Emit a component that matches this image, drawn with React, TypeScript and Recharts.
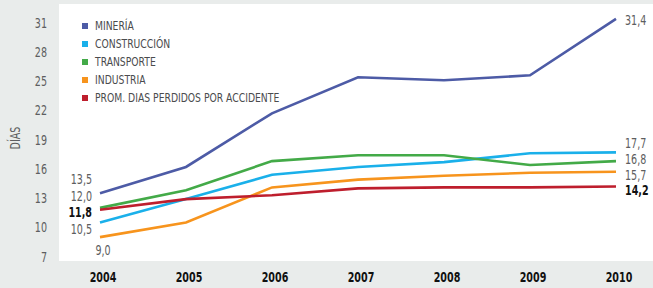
import React from "react";
import { LineChart, Line, XAxis, YAxis, CartesianGrid } from "recharts";

document.body.style.margin = "0";

const years = ["2004", "2005", "2006", "2007", "2008", "2009", "2010"];
const mineria = [13.5, 16.2, 21.7, 25.4, 25.1, 25.6, 31.4];
const construccion = [10.5, 12.9, 15.4, 16.2, 16.7, 17.6, 17.7];
const transporte = [12.0, 13.8, 16.8, 17.4, 17.4, 16.4, 16.8];
const industria = [9.0, 10.5, 14.1, 14.9, 15.3, 15.6, 15.7];
const promedio = [11.8, 12.9, 13.3, 14.0, 14.1, 14.1, 14.2];
const yTicks = [7, 10, 13, 16, 19, 22, 25, 28, 31];

const FONT = "'DejaVu Sans Condensed', 'DejaVu Sans', sans-serif";
const GRAY_TEXT = "#5d5e60";
const SQUEEZE = 0.76;

const data = years.map((year, i) => ({
  year,
  mineria: mineria[i],
  construccion: construccion[i],
  transporte: transporte[i],
  industria: industria[i],
  promedio: promedio[i],
}));

// label placement per series: start [dx, dy, anchor], end [dx, dy]
const series = [
  { key: "mineria", name: "MINERÍA", color: "#4d5ba6", start: [-8, -9, "end"], end: [9, 6] },
  { key: "construccion", name: "CONSTRUCCIÓN", color: "#1ab0ea", start: [-8, 11, "end"], end: [9, -4] },
  { key: "transporte", name: "TRANSPORTE", color: "#43aa48", start: [-8, -7, "end"], end: [9, 3] },
  { key: "industria", name: "INDUSTRIA", color: "#f7941d", start: [3, 18, "middle"], end: [9, 8] },
  { key: "promedio", name: "PROM. DIAS PERDIDOS POR ACCIDENTE", color: "#be1e2d", start: [-8, 7, "end"], end: [9, 9], bold: true },
];

const fmt = (v: number) => v.toFixed(1).replace(".", ",");

function NarrowText({ x, y, anchor = "start", size = 14, weight = 400, fill = GRAY_TEXT, children }: any) {
  return (
    <text
      transform={`translate(${x},${y}) scale(${SQUEEZE},1)`}
      textAnchor={anchor}
      fontFamily={FONT}
      fontSize={size}
      fontWeight={weight}
      fill={fill}
    >
      {children}
    </text>
  );
}

function makeLabel(s: any) {
  return (p: any) => {
    const { x, y, index, value } = p;
    if (index !== 0 && index !== years.length - 1) return null;
    const first = index === 0;
    return (
      <NarrowText
        key={`${s.key}-${index}`}
        x={x + (first ? s.start[0] : s.end[0])}
        y={y + (first ? s.start[1] : s.end[1])}
        anchor={first ? s.start[2] : "start"}
        weight={s.bold ? 700 : 400}
        fill={s.bold ? "#111" : GRAY_TEXT}
      >
        {fmt(value)}
      </NarrowText>
    );
  };
}

function YTick({ x, y, payload }: any) {
  return (
    <NarrowText x={47} y={y + 5} anchor="end">
      {payload.value}
    </NarrowText>
  );
}

function XTick({ x, y, payload }: any) {
  return (
    <NarrowText x={x + 3} y={y + 13} anchor="middle" weight={700} fill="#111">
      {payload.value}
    </NarrowText>
  );
}

function DiasLabel() {
  const cx = 20;
  const cy = 138;
  return (
    <text
      transform={`translate(${cx},${cy}) rotate(-90) scale(${SQUEEZE},1)`}
      textAnchor="middle"
      fontFamily={FONT}
      fontSize={14}
      fill={GRAY_TEXT}
    >
      DÍAS
    </text>
  );
}

function LegendBox() {
  return (
    <div
      style={{
        position: "absolute",
        left: 82,
        top: 17,
        fontFamily: FONT,
        fontSize: 13,
        color: "#4a4b4d",
        lineHeight: "18px",
        whiteSpace: "nowrap",
      }}
    >
      {series.map((s) => (
        <div key={s.key} style={{ display: "flex", alignItems: "center" }}>
          <span style={{ width: 6, height: 6, background: s.color, marginRight: 7, display: "inline-block" }} />
          <span style={{ display: "inline-block", transform: `scaleX(${SQUEEZE + 0.03})`, transformOrigin: "left center" }}>
            {s.name}
          </span>
        </div>
      ))}
    </div>
  );
}

export default function App() {
  return (
    <div style={{ position: "relative", width: 653, height: 288, background: "#e9eceb" }}>
      <LineChart width={653} height={288} data={data} margin={{ top: 4, right: 0, bottom: 0, left: 9 }}>
        <CartesianGrid fill="#ffffff" stroke="none" vertical={false} horizontal={false} />
        <XAxis
          dataKey="year"
          padding={{ left: 41, right: 37 }}
          axisLine={false}
          tickLine={false}
          height={27}
          tick={<XTick />}
        />
        <YAxis
          type="number"
          domain={[6.55, 32.92]}
          ticks={yTicks}
          interval={0}
          allowDataOverflow
          width={50}
          axisLine={false}
          tickLine={false}
          tick={<YTick />}
          label={<DiasLabel />}
        />
        {series.map((s) => (
          <Line
            key={s.key}
            type="linear"
            dataKey={s.key}
            name={s.name}
            stroke={s.color}
            strokeWidth={2.6}
            dot={false}
            activeDot={false}
            isAnimationActive={false}
            label={makeLabel(s)}
          />
        ))}
      </LineChart>
      <LegendBox />
    </div>
  );
}
